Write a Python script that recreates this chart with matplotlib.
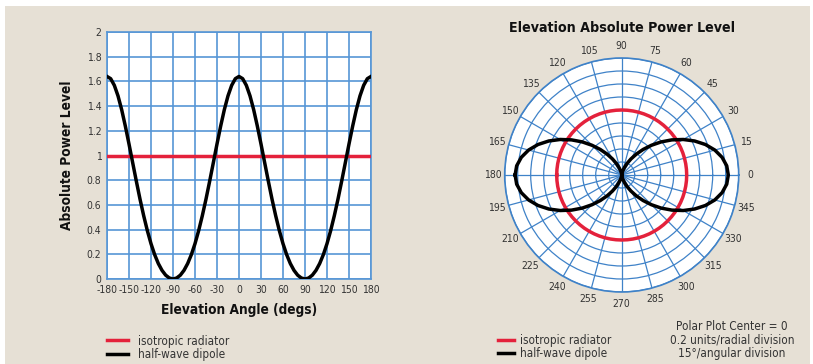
import numpy as np
import matplotlib
matplotlib.use("Agg")
import matplotlib.pyplot as plt
from matplotlib.patches import Rectangle

plt.rcParams['font.family'] = ['DejaVu Sans']
plt.rcParams['font.stretch'] = 'condensed'
plt.rcParams['axes.unicode_minus'] = False

# Elevation angle (degrees) and absolute power levels
angles_deg = [-180, -175, -170, -165, -160, -155, -150, -145, -140, -135,
              -130, -125, -120, -115, -110, -105, -100, -95, -90,
              -85, -80, -75, -70, -65, -60, -55, -50, -45, -40, -35, -30,
              -25, -20, -15, -10, -5, 0,
              5, 10, 15, 20, 25, 30, 35, 40, 45, 50, 55, 60, 65, 70, 75, 80, 85, 90,
              95, 100, 105, 110, 115, 120, 125, 130, 135, 140, 145, 150, 155,
              160, 165, 170, 175, 180]
dipole_power = [1.640, 1.622, 1.568, 1.483, 1.371, 1.238, 1.093, 0.942, 0.792, 0.647,
                0.513, 0.392, 0.286, 0.197, 0.125, 0.070, 0.031, 0.008, 0.000,
                0.008, 0.031, 0.070, 0.125, 0.197, 0.286, 0.392, 0.513, 0.647, 0.792,
                0.942, 1.093, 1.238, 1.371, 1.483, 1.568, 1.622, 1.640,
                1.622, 1.568, 1.483, 1.371, 1.238, 1.093, 0.942, 0.792, 0.647, 0.513,
                0.392, 0.286, 0.197, 0.125, 0.070, 0.031, 0.008, 0.000,
                0.008, 0.031, 0.070, 0.125, 0.197, 0.286, 0.392, 0.513, 0.647, 0.792,
                0.942, 1.093, 1.238, 1.371, 1.483, 1.568, 1.622, 1.640]
isotropic_power = [1.0] * len(angles_deg)

x_ticks = [-180, -150, -120, -90, -60, -30, 0, 30, 60, 90, 120, 150, 180]
y_ticks = [0, 0.2, 0.4, 0.6, 0.8, 1, 1.2, 1.4, 1.6, 1.8, 2]
y_labels = ['0', '0.2', '0.4', '0.6', '0.8', '1', '1.2', '1.4', '1.6', '1.8', '2']
polar_rings = [0.2, 0.4, 0.6, 0.8, 1.0, 1.2, 1.4, 1.6, 1.8]
polar_angles = list(range(0, 360, 15))

bg = '#E6E0D5'
grid_blue = '#5696D6'
polar_blue = '#3F82C8'
red = '#E4213B'
text_col = '#333333'

fig = plt.figure(figsize=(8.13, 3.64), dpi=100, facecolor='white')
fig.patches.append(Rectangle((5 / 813, 0), 805 / 813, 1 - 6 / 364,
                             transform=fig.transFigure, facecolor=bg,
                             edgecolor='none', zorder=-10))

# ---- cartesian plot ----
ax = fig.add_axes([107 / 813, 1 - 279 / 364, 264 / 813, 247 / 364])
ax.set_facecolor('white')
ax.plot(angles_deg, isotropic_power, color=red, lw=2.5, label='isotropic radiator', zorder=3)
ax.plot(angles_deg, dipole_power, color='black', lw=2.5, label='half-wave dipole', zorder=4)
ax.set_xlim(-180, 180)
ax.set_ylim(0, 2)
ax.set_xticks(x_ticks)
ax.set_yticks(y_ticks)
ax.set_yticklabels(y_labels)
ax.grid(True, color=grid_blue, lw=1.2)
ax.tick_params(length=0, labelsize=7.5, labelcolor=text_col, pad=4)
for s in ax.spines.values():
    s.set_color(grid_blue)
    s.set_linewidth(1.2)
ax.set_xlabel('Elevation Angle (degs)', fontsize=9.8, fontweight='bold', color='#111111', labelpad=6)
ax.set_ylabel('Absolute Power Level', fontsize=9.8, fontweight='bold', color='#111111', labelpad=9)
ax.legend(loc='upper left', bbox_to_anchor=(0.0, -0.225), frameon=False,
          fontsize=8.5, handlelength=1.8, handletextpad=0.85, labelspacing=0.02,
          labelcolor=text_col, borderaxespad=0, borderpad=0)

# ---- polar plot ----
pax = fig.add_axes([504.7 / 813, 1 - 292 / 364, 234 / 813, 234 / 364], projection='polar')
pax.set_facecolor('white')
theta = np.deg2rad(angles_deg)
pax.plot(theta, isotropic_power, color=red, lw=2.5, label='isotropic radiator', zorder=3)
pax.plot(theta, dipole_power, color='black', lw=2.5, label='half-wave dipole', zorder=4)
pax.set_ylim(0, 1.8)
pax.set_rgrids(polar_rings, labels=[])
pax.set_thetagrids(polar_angles, labels=[str(a) for a in polar_angles])
pax.grid(True, color=polar_blue, lw=0.9)
pax.tick_params(axis='x', labelsize=7.5, labelcolor=text_col, pad=1.5, length=0)
pax.spines['polar'].set_color(polar_blue)
pax.spines['polar'].set_linewidth(1.2)
pax.set_title('Elevation Absolute Power Level', fontsize=10.2, fontweight='bold',
              color='#111111', pad=6.5)
pax.legend(loc='upper left', bbox_to_anchor=(-0.03, -0.18), frameon=False,
           fontsize=8.5, handlelength=1.4, handletextpad=0.5, labelspacing=0.02,
           labelcolor=text_col, borderaxespad=0, borderpad=0)

fig.text(732 / 813, 1 - 340 / 364, 'Polar Plot Center = 0\n0.2 units/radial division\n15°/angular division',
         ha='center', va='center', fontsize=8.5, color=text_col, linespacing=1.08)

fig.savefig('out.png', dpi=100, facecolor=fig.get_facecolor())
